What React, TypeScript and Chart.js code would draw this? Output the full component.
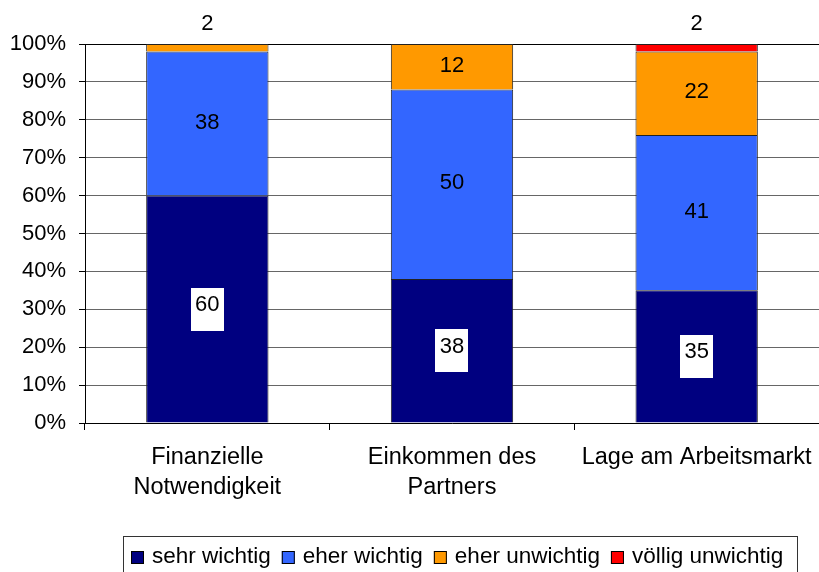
import React, { useEffect, useRef } from "react";
import { Chart, registerables } from "chart.js";

Chart.register(...registerables);

const categories: string[][] = [
  ["Finanzielle", "Notwendigkeit"],
  ["Einkommen des", "Partners"],
  ["Lage am Arbeitsmarkt"],
];
const seriesNames = ["sehr wichtig", "eher wichtig", "eher unwichtig", "völlig unwichtig"];
const sehrWichtig = [60, 38, 35];
const eherWichtig = [38, 50, 41];
const eherUnwichtig = [2, 12, 22];
const voelligUnwichtig = [0, 0, 2];
const seriesColors = ["#000080", "#3366FF", "#FF9900", "#FF0000"];
const yTicks = [0, 10, 20, 30, 40, 50, 60, 70, 80, 90, 100];

const FONT = "'Liberation Sans', Arial, sans-serif";

const labelPlugin = {
  id: "segLabels",
  afterDatasetsDraw(chart: any) {
    const ctx = chart.ctx;
    ctx.save();
    ctx.font = `22px ${FONT}`;
    ctx.textAlign = "center";
    ctx.textBaseline = "middle";
    chart.data.datasets.forEach((ds: any, di: number) => {
      const meta = chart.getDatasetMeta(di);
      meta.data.forEach((bar: any, i: number) => {
        const v = ds.data[i];
        if (!v) return;
        const top = Math.min(bar.y, bar.base);
        const bottom = Math.max(bar.y, bar.base);
        const cx = bar.x;
        const cy = (top + bottom) / 2;
        const txt = String(v);
        if (v < 5) {
          ctx.fillStyle = "#000";
          ctx.fillText(txt, cx, top - 20);
          return;
        }
        if (di === 0) {
          const w = ctx.measureText(txt).width + 9;
          const h = 43;
          ctx.fillStyle = "#fff";
          ctx.fillRect(Math.round(cx - w / 2), Math.round(cy - h / 2), Math.round(w), h);
          ctx.fillStyle = "#000";
          ctx.fillText(txt, cx, cy - 4);
        } else {
          ctx.fillStyle = "#000";
          ctx.fillText(txt, cx, cy - 1);
        }
      });
    });
    ctx.restore();
  },
};

const legendPlugin = {
  id: "boxLegend",
  afterDraw(chart: any) {
    const ctx = chart.ctx;
    ctx.save();
    ctx.font = `22.5px ${FONT}`;
    ctx.textBaseline = "middle";
    ctx.textAlign = "left";
    ctx.strokeStyle = "#333";
    ctx.lineWidth = 1;
    ctx.strokeRect(123.5, 536.5, 674, 60);
    let x = 131;
    const cy = 557;
    chart.data.datasets.forEach((ds: any) => {
      ctx.fillStyle = ds.backgroundColor;
      ctx.fillRect(x, cy - 6, 13, 13);
      ctx.strokeStyle = "#000";
      ctx.strokeRect(x + 0.5, cy - 5.5, 12, 12);
      ctx.fillStyle = "#000";
      ctx.fillText(ds.label, x + 21, cy);
      x += 21 + ctx.measureText(ds.label).width + 11;
    });
    ctx.restore();
  },
};

export default function App() {
  const ref = useRef<HTMLCanvasElement>(null);
  useEffect(() => {
    document.body.style.margin = "0";
    const values = [sehrWichtig, eherWichtig, eherUnwichtig, voelligUnwichtig];
    const chart = new Chart(ref.current!, {
      type: "bar",
      data: {
        labels: categories,
        datasets: seriesNames.map((name, i) => ({
          label: name,
          data: values[i],
          backgroundColor: seriesColors[i],
          borderColor: "#222",
          borderWidth: 1,
          barPercentage: 0.5,
          categoryPercentage: 1,
        })),
      },
      options: {
        responsive: false,
        animation: false,
        layout: { padding: { top: 44, bottom: 69, left: 0, right: 0 } },
        plugins: { legend: { display: false }, tooltip: { enabled: false } },
        scales: {
          x: {
            stacked: true,
            grid: { drawOnChartArea: false, tickLength: 7, tickColor: "#000" },
            border: { color: "#000", width: 1 },
            ticks: {
              color: "#000",
              font: { family: FONT, size: 23.5, lineHeight: 1.3 },
              padding: 12,
              maxRotation: 0,
              autoSkip: false,
            },
            afterFit(scale: any) {
              scale.height = 80;
              scale.paddingLeft = 0;
              scale.paddingRight = 0;
            },
          },
          y: {
            stacked: true,
            min: 0,
            max: 100,
            afterBuildTicks(scale: any) {
              scale.ticks = yTicks.map((v) => ({ value: v }));
            },
            grid: {
              color: (c: any) => (c.tick && c.tick.value === 100 ? "#000" : "#666"),
              tickLength: 6,
              tickColor: "#000",
            },
            border: { color: "#000", width: 1 },
            ticks: {
              color: "#000",
              font: { family: FONT, size: 22 },
              padding: 13,
              callback: (v: any) => v + "%",
            },
            afterFit(scale: any) {
              scale.width = 85;
              scale.paddingTop = 0;
              scale.paddingBottom = 0;
            },
          },
        },
      },
      plugins: [labelPlugin, legendPlugin],
    });
    return () => chart.destroy();
  }, []);
  return (
    <div style={{ position: "absolute", left: 0, top: 0, width: 819, height: 572, background: "#fff" }}>
      <canvas ref={ref} width={819} height={572} />
    </div>
  );
}
